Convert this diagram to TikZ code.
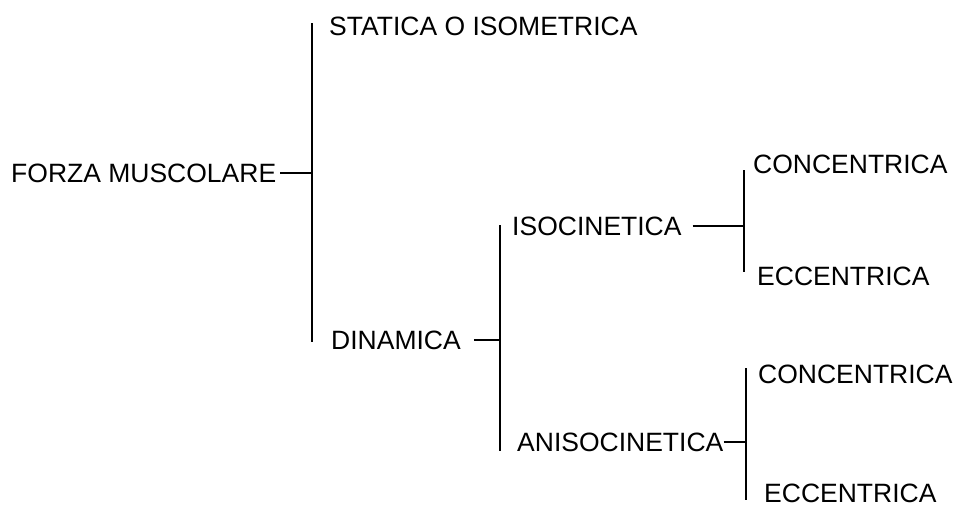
\documentclass[tikz,border=0pt]{standalone}
\usepackage{fontspec}
\setmainfont{Liberation Sans}
\begin{document}
\begin{tikzpicture}[x=1pt,y=-1pt,
  lbl/.style={anchor=base west,inner sep=0pt,font=\fontsize{26.5}{30}\selectfont},
  ln/.style={line width=1.3pt,black}]
\useasboundingbox (0,0) rectangle (955,506);
% labels
\node[lbl] (forza) at (11,182) {FORZA MUSCOLARE};
\node[lbl] (statica) at (329,35) {STATICA O ISOMETRICA};
\node[lbl] (dinamica) at (331,349) {DINAMICA};
\node[lbl] (iso) at (512,235) {ISOCINETICA};
\node[lbl] (conc1) at (753,173) {CONCENTRICA};
\node[lbl] (ecc1) at (757,285) {ECCENTRICA};
\node[lbl] (aniso) at (517,451) {ANISOCINETICA};
\node[lbl] (conc2) at (758,383) {CONCENTRICA};
\node[lbl] (ecc2) at (764,502) {ECCENTRICA};
% bracket coordinates
\coordinate (b1t) at (312,23);
\coordinate (b1b) at (312,342);
\coordinate (b2t) at (500,225);
\coordinate (b2b) at (500,451);
\coordinate (b3t) at (744,170);
\coordinate (b3b) at (744,272);
\coordinate (b4t) at (746,368);
\coordinate (b4b) at (746,500);
% brackets
\draw[ln] (b1t) -- (b1b);
\draw[ln] (b2t) -- (b2b);
\draw[ln] (b3t) -- (b3b);
\draw[ln] (b4t) -- (b4b);
% ticks
\draw[ln] ([xshift=4pt]forza.east) -- (forza.east -| b1t);
\draw[ln] ([xshift=13pt]dinamica.east) -- (dinamica.east -| b2t);
\draw[ln] ([xshift=11pt]iso.east) -- (iso.east -| b3t);
\draw[ln] (aniso.east) -- (aniso.east -| b4t);
\end{tikzpicture}
\end{document}
